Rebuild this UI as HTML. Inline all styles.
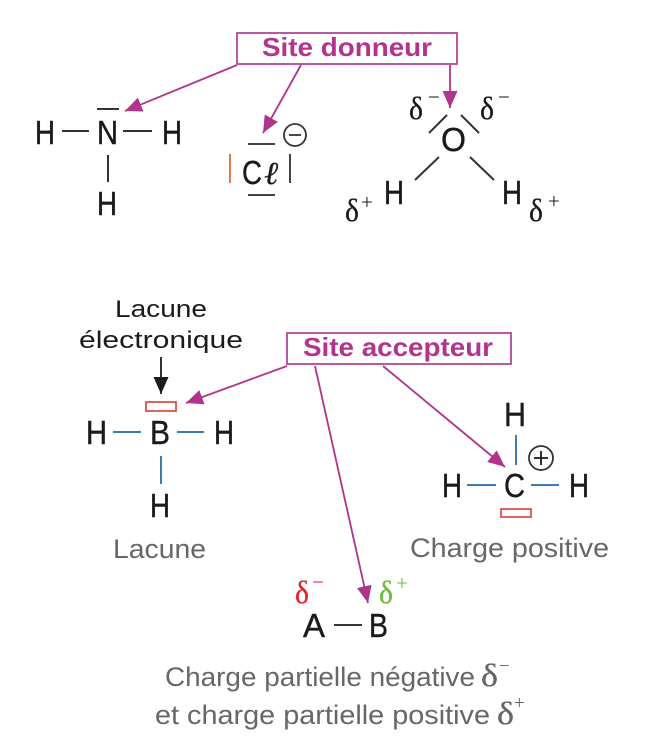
<!DOCTYPE html>
<html><head><meta charset="utf-8"><style>
html,body{margin:0;padding:0;background:#fff;}
svg{display:block;}
.at{font-family:"Liberation Sans",sans-serif;font-size:33px;fill:#1b1b1b;stroke:#1b1b1b;stroke-width:0.4px;}
.dl{font-family:"Liberation Serif",serif;font-size:32px;fill:#1b1b1b;stroke:#1b1b1b;stroke-width:0.3px;}
.sup{font-family:"Liberation Serif",serif;font-size:21px;fill:#1b1b1b;}
.gr{font-family:"Liberation Sans",sans-serif;font-size:27px;fill:#676767;}
.bk{font-family:"Liberation Sans",sans-serif;font-size:24px;fill:#1b1b1b;}
.site{font-family:"Liberation Sans",sans-serif;font-size:26px;font-weight:bold;fill:#b3338e;}
</style></head><body>
<svg width="664" height="756" viewBox="0 0 664 756" xmlns="http://www.w3.org/2000/svg">
<defs>
<marker id="am" markerUnits="userSpaceOnUse" markerWidth="18" markerHeight="16" refX="17" refY="7.5" orient="auto">
<path d="M0,0 L17,7.5 L0,15 z" fill="#b0338c"/>
</marker>
<marker id="ab" markerUnits="userSpaceOnUse" markerWidth="18" markerHeight="16" refX="17" refY="7.5" orient="auto">
<path d="M0,0 L17,7.5 L0,15 z" fill="#1b1b1b"/>
</marker>
</defs>

<!-- Site donneur -->
<rect x="237" y="33" width="220" height="31" fill="#fff" stroke="#b4479a" stroke-width="1.8"/>
<text class="site" x="262" y="56" textLength="170" lengthAdjust="spacingAndGlyphs">Site donneur</text>
<g stroke="#b0338c" stroke-width="1.8" fill="none">
<line x1="237" y1="65" x2="125" y2="111" marker-end="url(#am)"/>
<line x1="301" y1="65" x2="263" y2="133" marker-end="url(#am)"/>
<line x1="450" y1="65" x2="450" y2="108" marker-end="url(#am)"/>
</g>

<!-- NH3 -->
<text class="at" x="35" y="144" textLength="20" lengthAdjust="spacingAndGlyphs">H</text>
<text class="at" x="97" y="144" textLength="21" lengthAdjust="spacingAndGlyphs">N</text>
<text class="at" x="162" y="144" textLength="20" lengthAdjust="spacingAndGlyphs">H</text>
<text class="at" x="97" y="215" textLength="20" lengthAdjust="spacingAndGlyphs">H</text>
<g stroke="#333" stroke-width="2">
<line x1="62" y1="131" x2="89" y2="131"/>
<line x1="123" y1="131" x2="152" y2="131"/>
<line x1="108" y1="155" x2="108" y2="182"/>
<line x1="97" y1="109" x2="119" y2="109"/>
</g>

<!-- Cl- -->
<line x1="230" y1="154" x2="230" y2="183" stroke="#e07a50" stroke-width="2"/>
<g stroke="#444" stroke-width="2">
<line x1="290" y1="154" x2="290" y2="183"/>
<line x1="248" y1="144" x2="275" y2="144"/>
<line x1="248" y1="195" x2="275" y2="195"/>
</g>
<text class="at" x="242" y="184" textLength="20" lengthAdjust="spacingAndGlyphs">C</text>
<text x="264" y="184" style="font-family:'Liberation Serif','DejaVu Serif',serif;font-size:32px;fill:#1b1b1b;font-style:italic;stroke:#1b1b1b;stroke-width:0.3px" textLength="14" lengthAdjust="spacingAndGlyphs">ℓ</text>
<circle cx="295" cy="135" r="11" fill="none" stroke="#333" stroke-width="1.8"/>
<line x1="289" y1="135" x2="301" y2="135" stroke="#333" stroke-width="1.8"/>

<!-- H2O -->
<text class="dl" x="409" y="119" textLength="14" lengthAdjust="spacingAndGlyphs">δ</text>
<text class="sup" x="428" y="104">−</text>
<text class="dl" x="480" y="119" textLength="14" lengthAdjust="spacingAndGlyphs">δ</text>
<text class="sup" x="498" y="104">−</text>
<g stroke="#333" stroke-width="2">
<line x1="429" y1="133" x2="447" y2="115"/>
<line x1="461" y1="115" x2="479" y2="133"/>
<line x1="439" y1="157" x2="415" y2="180"/>
<line x1="470" y1="157" x2="494" y2="180"/>
</g>
<text class="at" x="441" y="151" textLength="25" lengthAdjust="spacingAndGlyphs">O</text>
<text class="at" x="384" y="204" textLength="20" lengthAdjust="spacingAndGlyphs">H</text>
<text class="at" x="502" y="204" textLength="20" lengthAdjust="spacingAndGlyphs">H</text>
<text class="dl" x="345" y="221" textLength="14" lengthAdjust="spacingAndGlyphs">δ</text>
<text class="sup" x="361" y="209">+</text>
<text class="dl" x="529" y="221" textLength="14" lengthAdjust="spacingAndGlyphs">δ</text>
<text class="sup" x="548" y="208">+</text>

<!-- Site accepteur -->
<rect x="287" y="333" width="224" height="31" fill="#fff" stroke="#b4479a" stroke-width="1.8"/>
<text class="site" x="303" y="356" textLength="190" lengthAdjust="spacingAndGlyphs">Site accepteur</text>
<g stroke="#b0338c" stroke-width="1.8" fill="none">
<line x1="287" y1="366" x2="186" y2="403" marker-end="url(#am)"/>
<line x1="315" y1="366" x2="368" y2="603" marker-end="url(#am)"/>
<line x1="383" y1="366" x2="505" y2="467" marker-end="url(#am)"/>
</g>

<!-- BH3 -->
<text class="bk" x="115" y="317" textLength="92" lengthAdjust="spacingAndGlyphs">Lacune</text>
<text class="bk" x="79" y="348" textLength="164" lengthAdjust="spacingAndGlyphs">électronique</text>
<line x1="161" y1="357" x2="161" y2="394" stroke="#1b1b1b" stroke-width="1.8" marker-end="url(#ab)"/>
<rect x="146" y="402" width="30" height="9" fill="none" stroke="#e0504a" stroke-width="1.8"/>
<text class="at" x="86" y="444" textLength="21" lengthAdjust="spacingAndGlyphs">H</text>
<text class="at" x="150" y="444" textLength="20" lengthAdjust="spacingAndGlyphs">B</text>
<text class="at" x="214" y="444" textLength="20" lengthAdjust="spacingAndGlyphs">H</text>
<text class="at" x="150" y="517" textLength="20" lengthAdjust="spacingAndGlyphs">H</text>
<g stroke="#3b7db3" stroke-width="2">
<line x1="113" y1="432" x2="141" y2="432"/>
<line x1="177" y1="432" x2="204" y2="432"/>
<line x1="161" y1="456" x2="161" y2="484"/>
</g>
<text class="gr" x="113" y="558" textLength="93" lengthAdjust="spacingAndGlyphs">Lacune</text>

<!-- CH3+ -->
<text class="at" x="504" y="426" textLength="22" lengthAdjust="spacingAndGlyphs">H</text>
<text class="at" x="442" y="497" textLength="20" lengthAdjust="spacingAndGlyphs">H</text>
<text class="at" x="504" y="497" textLength="21" lengthAdjust="spacingAndGlyphs">C</text>
<text class="at" x="569" y="497" textLength="20" lengthAdjust="spacingAndGlyphs">H</text>
<g stroke="#3b7db3" stroke-width="2">
<line x1="516" y1="435" x2="516" y2="465"/>
<line x1="467" y1="485" x2="496" y2="485"/>
<line x1="531" y1="485" x2="559" y2="485"/>
</g>
<circle cx="541" cy="458" r="12" fill="none" stroke="#333" stroke-width="1.8"/>
<line x1="534" y1="458" x2="548" y2="458" stroke="#1b1b1b" stroke-width="1.8"/>
<line x1="541" y1="451" x2="541" y2="465" stroke="#1b1b1b" stroke-width="1.8"/>
<rect x="501" y="509" width="30" height="8" fill="none" stroke="#e0504a" stroke-width="1.8"/>
<text class="gr" x="410" y="557" textLength="199" lengthAdjust="spacingAndGlyphs">Charge positive</text>

<!-- A-B -->
<text class="dl" x="295" y="603" textLength="14" lengthAdjust="spacingAndGlyphs" style="fill:#e8202a;stroke:#e8202a">δ</text>
<text class="sup" x="312" y="589" style="fill:#e8202a">−</text>
<text class="dl" x="379" y="603" textLength="14" lengthAdjust="spacingAndGlyphs" style="fill:#6cba3c;stroke:#6cba3c">δ</text>
<text class="sup" x="396" y="590" style="fill:#6cba3c">+</text>
<text class="at" x="303" y="637" textLength="22" lengthAdjust="spacingAndGlyphs">A</text>
<line x1="334" y1="625" x2="362" y2="625" stroke="#333" stroke-width="2"/>
<text class="at" x="369" y="637" textLength="19" lengthAdjust="spacingAndGlyphs">B</text>

<text class="gr" x="165" y="686" textLength="310" lengthAdjust="spacingAndGlyphs">Charge partielle négative</text>
<text class="dl" x="481" y="686" textLength="17" lengthAdjust="spacingAndGlyphs" style="fill:#676767;stroke:#676767">δ</text>
<text class="sup" x="499" y="672" style="fill:#676767;font-size:19px">−</text>
<text class="gr" x="155" y="724" textLength="335" lengthAdjust="spacingAndGlyphs">et charge partielle positive</text>
<text class="dl" x="497" y="724" textLength="17" lengthAdjust="spacingAndGlyphs" style="fill:#676767;stroke:#676767">δ</text>
<text class="sup" x="514" y="709" style="fill:#676767;font-size:19px">+</text>
</svg>
</body></html>
